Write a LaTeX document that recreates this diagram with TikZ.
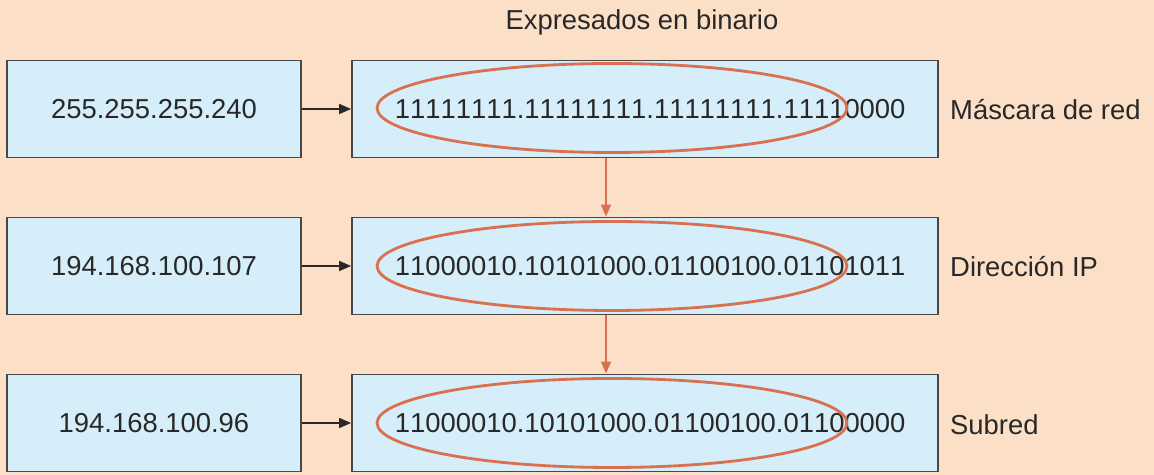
\documentclass[tikz,border=0pt]{standalone}
\usepackage{fontspec}
\setmainfont{Liberation Sans}
\newfontfamily\bitsfont{Liberation Sans}[Kerning=Off]
\usetikzlibrary{shapes.geometric,arrows.meta}
\definecolor{peach}{RGB}{251,223,199}
\definecolor{boxblue}{RGB}{214,238,249}
\definecolor{boxline}{RGB}{72,72,72}
\definecolor{ringred}{RGB}{217,112,80}
\definecolor{inkgray}{RGB}{40,40,40}
\tikzstyle{dec box} = [rectangle,draw=boxline,line width=1.1pt,fill=boxblue,minimum width=5.88cm,minimum height=1.94cm,text=inkgray]
\tikzstyle{bin box} = [rectangle,draw=boxline,line width=1.1pt,fill=boxblue,minimum width=11.72cm,minimum height=1.94cm,text=inkgray,font=\fontsize{15.6}{18}\bitsfont]
\tikzstyle{ring}    = [ellipse,draw=ringred,line width=1.6pt,minimum width=9.4cm,minimum height=1.78cm]
\tikzstyle{side label} = [anchor=west,text=inkgray]

\begin{document}
\begin{tikzpicture}[x=0.02cm,y=-0.02cm,
                    font=\fontsize{15.6}{18}\selectfont,
                    conv/.style={-{Triangle[length=2.4mm,width=2mm]},line width=0.9pt,draw=inkgray},
                    down/.style={-{Triangle[length=2.4mm,width=2mm]},line width=0.9pt,draw=ringred}
                    ]
    \fill[peach] (0,0) rectangle (1154,475);
    \useasboundingbox (0,0) rectangle (1154,475);

    \node(title)[text=inkgray] at (642,22) {Expresados en binario};

    % Row 1: mask
    \node(d1)[dec box] at (154,109) {255.255.255.240};
    \node(b1)[bin box] at (645,109) {\hspace{6pt}11111111.11111111.11111111.11110000};
    \node(e1)[ring] at (612,108) {};
    \node(l1)[side label] at (944,110) {Máscara de red};

    % Row 2: address
    \node(d2)[dec box] at (154,266) {194.168.100.107};
    \node(b2)[bin box] at (645,266) {\hspace{6pt}11000010.10101000.01100100.01101011};
    \node(e2)[ring] at (612,266) {};
    \node(l2)[side label] at (944,267) {Dirección IP};

    % Row 3: subnet
    \node(d3)[dec box] at (154,423) {194.168.100.96};
    \node(b3)[bin box] at (645,423) {\hspace{6pt}11000010.10101000.01100100.01100000};
    \node(e3)[ring] at (612,423) {};
    \node(l3)[side label] at (944,425) {Subred};

    \coordinate(col) at (606,0);

    \draw[conv](d1)--(b1);
    \draw[conv](d2)--(b2);
    \draw[conv](d3)--(b3);

    \draw[down](b1.south -| col)--(b2.north -| col);
    \draw[down](b2.south -| col)--(b3.north -| col);

\end{tikzpicture}
\end{document}
